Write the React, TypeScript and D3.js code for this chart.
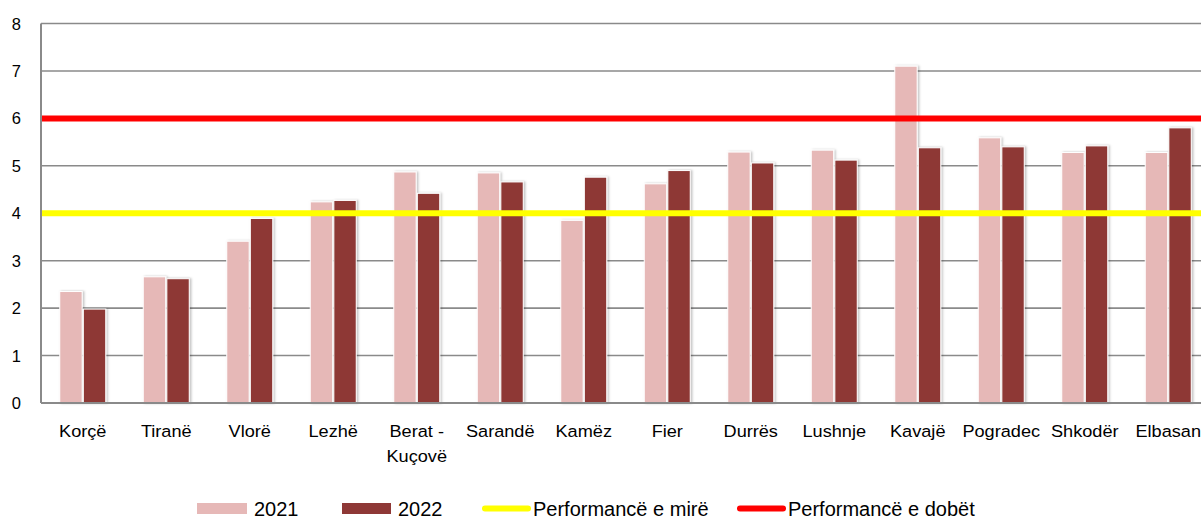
import React from "react";
import * as d3 from "d3";

const categories = ["Korçë", "Tiranë", "Vlorë", "Lezhë", "Berat - Kuçovë", "Sarandë", "Kamëz", "Fier", "Durrës", "Lushnje", "Kavajë", "Pogradec", "Shkodër", "Elbasan"];
const values2021 = [2.35, 2.66, 3.41, 4.24, 4.87, 4.85, 3.85, 4.62, 5.29, 5.33, 7.10, 5.59, 5.28, 5.28];
const values2022 = [1.98, 2.62, 3.89, 4.27, 4.42, 4.66, 4.76, 4.90, 5.06, 5.12, 5.38, 5.40, 5.42, 5.80];
const seriesNames = ["2021", "2022"];
const yTicks = [0, 1, 2, 3, 4, 5, 6, 7, 8];
const goodLevel = 4;
const poorLevel = 6;
const legendLabels = ["2021", "2022", "Performancë e mirë", "Performancë e dobët"];

const W = 1201;
const H = 518;
const left = 41;
const right = 1210;
const top = 23.5;
const bottom = 403;

const colors: Record<string, string> = { "2021": "#E6B8B7", "2022": "#8E3836" };
const FONT = "'Liberation Sans', Arial, sans-serif";

export default function App() {
  const x0 = d3.scaleBand<string>().domain(categories).range([left, right]).paddingInner(0).paddingOuter(0);
  const x1 = d3.scaleBand<string>().domain(seriesNames).range([0, x0.bandwidth()]).paddingInner(0.05).paddingOuter(0.795);
  const y = d3.scaleLinear().domain([0, 8]).range([bottom, top]);
  const data = [values2021, values2022];
  const grid = "#8a8a8a";

  return (
    <div style={{ position: "absolute", left: 0, top: 0 }}>
      <svg width={W} height={H} style={{ display: "block", background: "#fff" }}>
        <defs>
          <filter id="sh" x="-20%" y="-5%" width="150%" height="110%">
            <feDropShadow dx="1.5" dy="0" stdDeviation="1" floodColor="#000" floodOpacity="0.25" />
          </filter>
        </defs>
        {yTicks.map((t) => (
          <g key={t}>
            {t > 0 && <line x1={left} x2={right} y1={y(t)} y2={y(t)} stroke={grid} strokeWidth={1.6} />}
            <text x={21} y={y(t)} textAnchor="end" dominantBaseline="central" fontFamily={FONT} fontSize={16.5} fill="#000">
              {t}
            </text>
          </g>
        ))}
        {categories.map((c, i) => (
          <g key={c}>
            {seriesNames.map((s, j) => {
              const v = data[j][i];
              const xx = (x0(c) as number) + (x1(s) as number);
              return (
                <rect
                  key={s}
                  x={xx}
                  y={y(v)}
                  width={x1.bandwidth()}
                  height={bottom - y(v)}
                  fill={colors[s]}
                  stroke="#fff"
                  strokeWidth={1}
                  filter="url(#sh)"
                />
              );
            })}
          </g>
        ))}
        <line x1={left} x2={right} y1={y(goodLevel)} y2={y(goodLevel)} stroke="#FFFF00" strokeWidth={6} />
        <line x1={left} x2={right} y1={y(poorLevel)} y2={y(poorLevel)} stroke="#FF0000" strokeWidth={6} />
        <line x1={left} x2={left} y1={top} y2={bottom} stroke={grid} strokeWidth={2} />
        <line x1={left} x2={right} y1={bottom} y2={bottom} stroke={grid} strokeWidth={2} />
        {categories.map((c) => {
          const cx = (x0(c) as number) + x0.bandwidth() / 2;
          const parts = c.includes(" - ") ? [c.split(" - ")[0] + " -", c.split(" - ")[1]] : [c];
          return (
            <text
              key={c}
              x={cx}
              y={437}
              textAnchor="middle"
              fontFamily={FONT}
              fontSize={16.5}
              fill="#000"
              transform={`translate(${cx},0) scale(1.1,1) translate(${-cx},0)`}
            >
              {parts.map((p, k) => (
                <tspan key={k} x={cx} dy={k === 0 ? 0 : 25}>
                  {p}
                </tspan>
              ))}
            </text>
          );
        })}
        <g fontFamily={FONT} fontSize={20} fill="#000">
          <rect x={197} y={503} width={50} height={11} fill={colors["2021"]} />
          <text x={254} y={508.5} dominantBaseline="central">{legendLabels[0]}</text>
          <rect x={342} y={503} width={49} height={11} fill={colors["2022"]} />
          <text x={398} y={508.5} dominantBaseline="central">{legendLabels[1]}</text>
          <line x1={485} x2={528} y1={508.5} y2={508.5} stroke="#FFFF00" strokeWidth={6} strokeLinecap="round" />
          <text x={533} y={508.5} dominantBaseline="central">{legendLabels[2]}</text>
          <line x1={740} x2={783} y1={508.5} y2={508.5} stroke="#FF0000" strokeWidth={6} strokeLinecap="round" />
          <text x={788} y={508.5} dominantBaseline="central">{legendLabels[3]}</text>
        </g>
      </svg>
    </div>
  );
}
